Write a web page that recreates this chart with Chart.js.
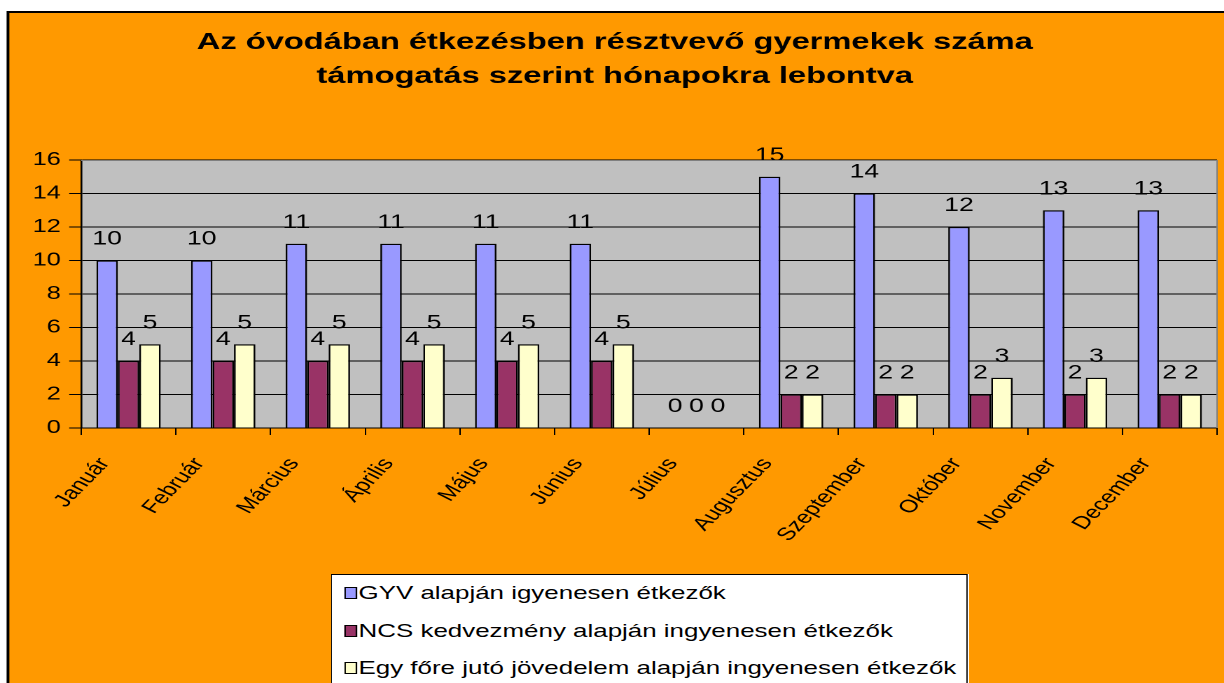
<!DOCTYPE html>
<html>
<head>
<meta charset="utf-8">
<script src="https://cdn.jsdelivr.net/npm/chart.js@4"></script>
<style>
  html, body { margin: 0; padding: 0; background: #fff; overflow: hidden; }
  /* the original Excel picture is stretched sideways, so draw narrow and stretch */
  #wrap {
    position: relative; width: 874px; height: 683px;
    transform: scaleX(1.4005); transform-origin: 0 0;
  }
  #chart { display: block; width: 874px; height: 683px; }
  #legend {
    position: absolute; left: 236px; top: 574px; width: 453px; height: 130px;
    background: #fff; border: 1px solid #000;
    font-family: "Liberation Sans", Arial, sans-serif; font-size: 18.5px; color: #000;
  }
  #legend .box {
    position: absolute; left: 9px; width: 7px; height: 10px; border: 1px solid #000;
  }
  #legend .txt { position: absolute; left: 19px; white-space: nowrap; line-height: 20px; }
</style>
</head>
<body>
<div id="wrap">
  <canvas id="chart" width="874" height="683"></canvas>
  <div id="legend"></div>
</div>
<script>
// chart data
const months = ['Január', 'Február', 'Március', 'Április', 'Május', 'Június',
  'Július', 'Augusztus', 'Szeptember', 'Október', 'November', 'December'];
const gyvValues = [10, 10, 11, 11, 11, 11, 0, 15, 14, 12, 13, 13];
const ncsValues = [4, 4, 4, 4, 4, 4, 0, 2, 2, 2, 2, 2];
const jovedelemValues = [5, 5, 5, 5, 5, 5, 0, 2, 2, 3, 3, 2];
const seriesNames = [
  'GYV alapján igyenesen étkezők',
  'NCS kedvezmény alapján ingyenesen étkezők',
  'Egy főre jutó jövedelem alapján ingyenesen étkezők'
];
const seriesColors = ['#9999FF', '#993366', '#FFFFCC'];
const titleLines = [
  'Az óvodában étkezésben résztvevő gyermekek száma',
  'támogatás szerint hónapokra lebontva'
];

const FONT = '"Liberation Sans", Arial, sans-serif';

// background, orange frame, gray plot area and title
const framePlugin = {
  id: 'frame',
  beforeDraw(chart) {
    const ctx = chart.ctx;
    const a = chart.chartArea;
    ctx.save();
    ctx.fillStyle = '#fff';
    ctx.fillRect(0, 0, chart.width, chart.height);
    ctx.fillStyle = '#FF9900';
    ctx.fillRect(5, 11, chart.width, chart.height);
    ctx.strokeStyle = '#000';
    ctx.lineWidth = 2;
    ctx.beginPath();
    ctx.moveTo(5.7, chart.height);
    ctx.lineTo(5.7, 12);
    ctx.lineTo(chart.width, 12);
    ctx.stroke();
    ctx.fillStyle = '#C0C0C0';
    ctx.fillRect(a.left, a.top, a.right - a.left, a.bottom - a.top);
    ctx.fillStyle = '#000';
    ctx.font = 'bold 23.3px ' + FONT;
    ctx.textAlign = 'center';
    ctx.textBaseline = 'alphabetic';
    ctx.fillText(titleLines[0], 439, 49);
    ctx.fillText(titleLines[1], 439, 83);
    ctx.restore();
  },
  afterDraw(chart) {
    const ctx = chart.ctx;
    const a = chart.chartArea;
    ctx.save();
    ctx.strokeStyle = '#808080';
    ctx.lineWidth = 1;
    ctx.beginPath();
    ctx.moveTo(a.left, a.top + 0.5);
    ctx.lineTo(a.right, a.top + 0.5);
    ctx.lineTo(a.right, a.bottom);
    ctx.stroke();
    ctx.restore();
  }
};

// value labels above bars
const valueLabels = {
  id: 'valueLabels',
  afterDatasetsDraw(chart) {
    const ctx = chart.ctx;
    ctx.save();
    ctx.fillStyle = '#000';
    ctx.font = '19px ' + FONT;
    ctx.textAlign = 'center';
    ctx.textBaseline = 'alphabetic';
    chart.data.datasets.forEach((ds, i) => {
      chart.getDatasetMeta(i).data.forEach((bar, j) => {
        ctx.fillText(String(ds.data[j]), bar.x, bar.y - 16);
      });
    });
    ctx.restore();
  }
};

const chart = new Chart(document.getElementById('chart'), {
  type: 'bar',
  data: {
    labels: months,
    datasets: seriesNames.map((name, i) => ({
      label: name,
      data: [gyvValues, ncsValues, jovedelemValues][i],
      backgroundColor: seriesColors[i],
      borderColor: '#000',
      borderWidth: 1.3,
      barPercentage: 1,
      categoryPercentage: 0.68
    }))
  },
  options: {
    responsive: false,
    animation: false,
    devicePixelRatio: 2,
    layout: { padding: { left: 0, top: 160, right: 5, bottom: 0 } },
    plugins: {
      legend: { display: false },
      title: { display: false },
      tooltip: { enabled: false }
    },
    scales: {
      x: {
        afterFit: s => { s.height = 255; },
        grid: { drawOnChartArea: false, drawTicks: true, tickLength: 7, color: '#000' },
        border: { color: '#000', width: 1 },
        ticks: {
          color: '#000',
          font: { family: FONT, size: 18 },
          minRotation: 54.5,
          maxRotation: 54.5,
          labelOffset: -17,
          padding: 19,
          autoSkip: false
        }
      },
      y: {
        min: 0,
        max: 16,
        afterFit: s => { s.width = 58; },
        grid: { color: '#000', lineWidth: 1, tickLength: 8.6 },
        border: { color: '#000', width: 1.3 },
        ticks: {
          stepSize: 2,
          color: '#000',
          font: { family: FONT, size: 18 },
          padding: 6
        }
      }
    }
  },
  plugins: [framePlugin, valueLabels]
});

// legend box in the old Excel style
const legendEl = document.getElementById('legend');
seriesNames.forEach((name, i) => {
  const rowMid = 18 + i * 37.5;
  const box = document.createElement('div');
  box.className = 'box';
  box.style.top = (rowMid - 6) + 'px';
  box.style.background = seriesColors[i];
  const txt = document.createElement('div');
  txt.className = 'txt';
  txt.style.top = (rowMid - 10) + 'px';
  txt.textContent = name;
  legendEl.appendChild(box);
  legendEl.appendChild(txt);
});
</script>
</body>
</html>
